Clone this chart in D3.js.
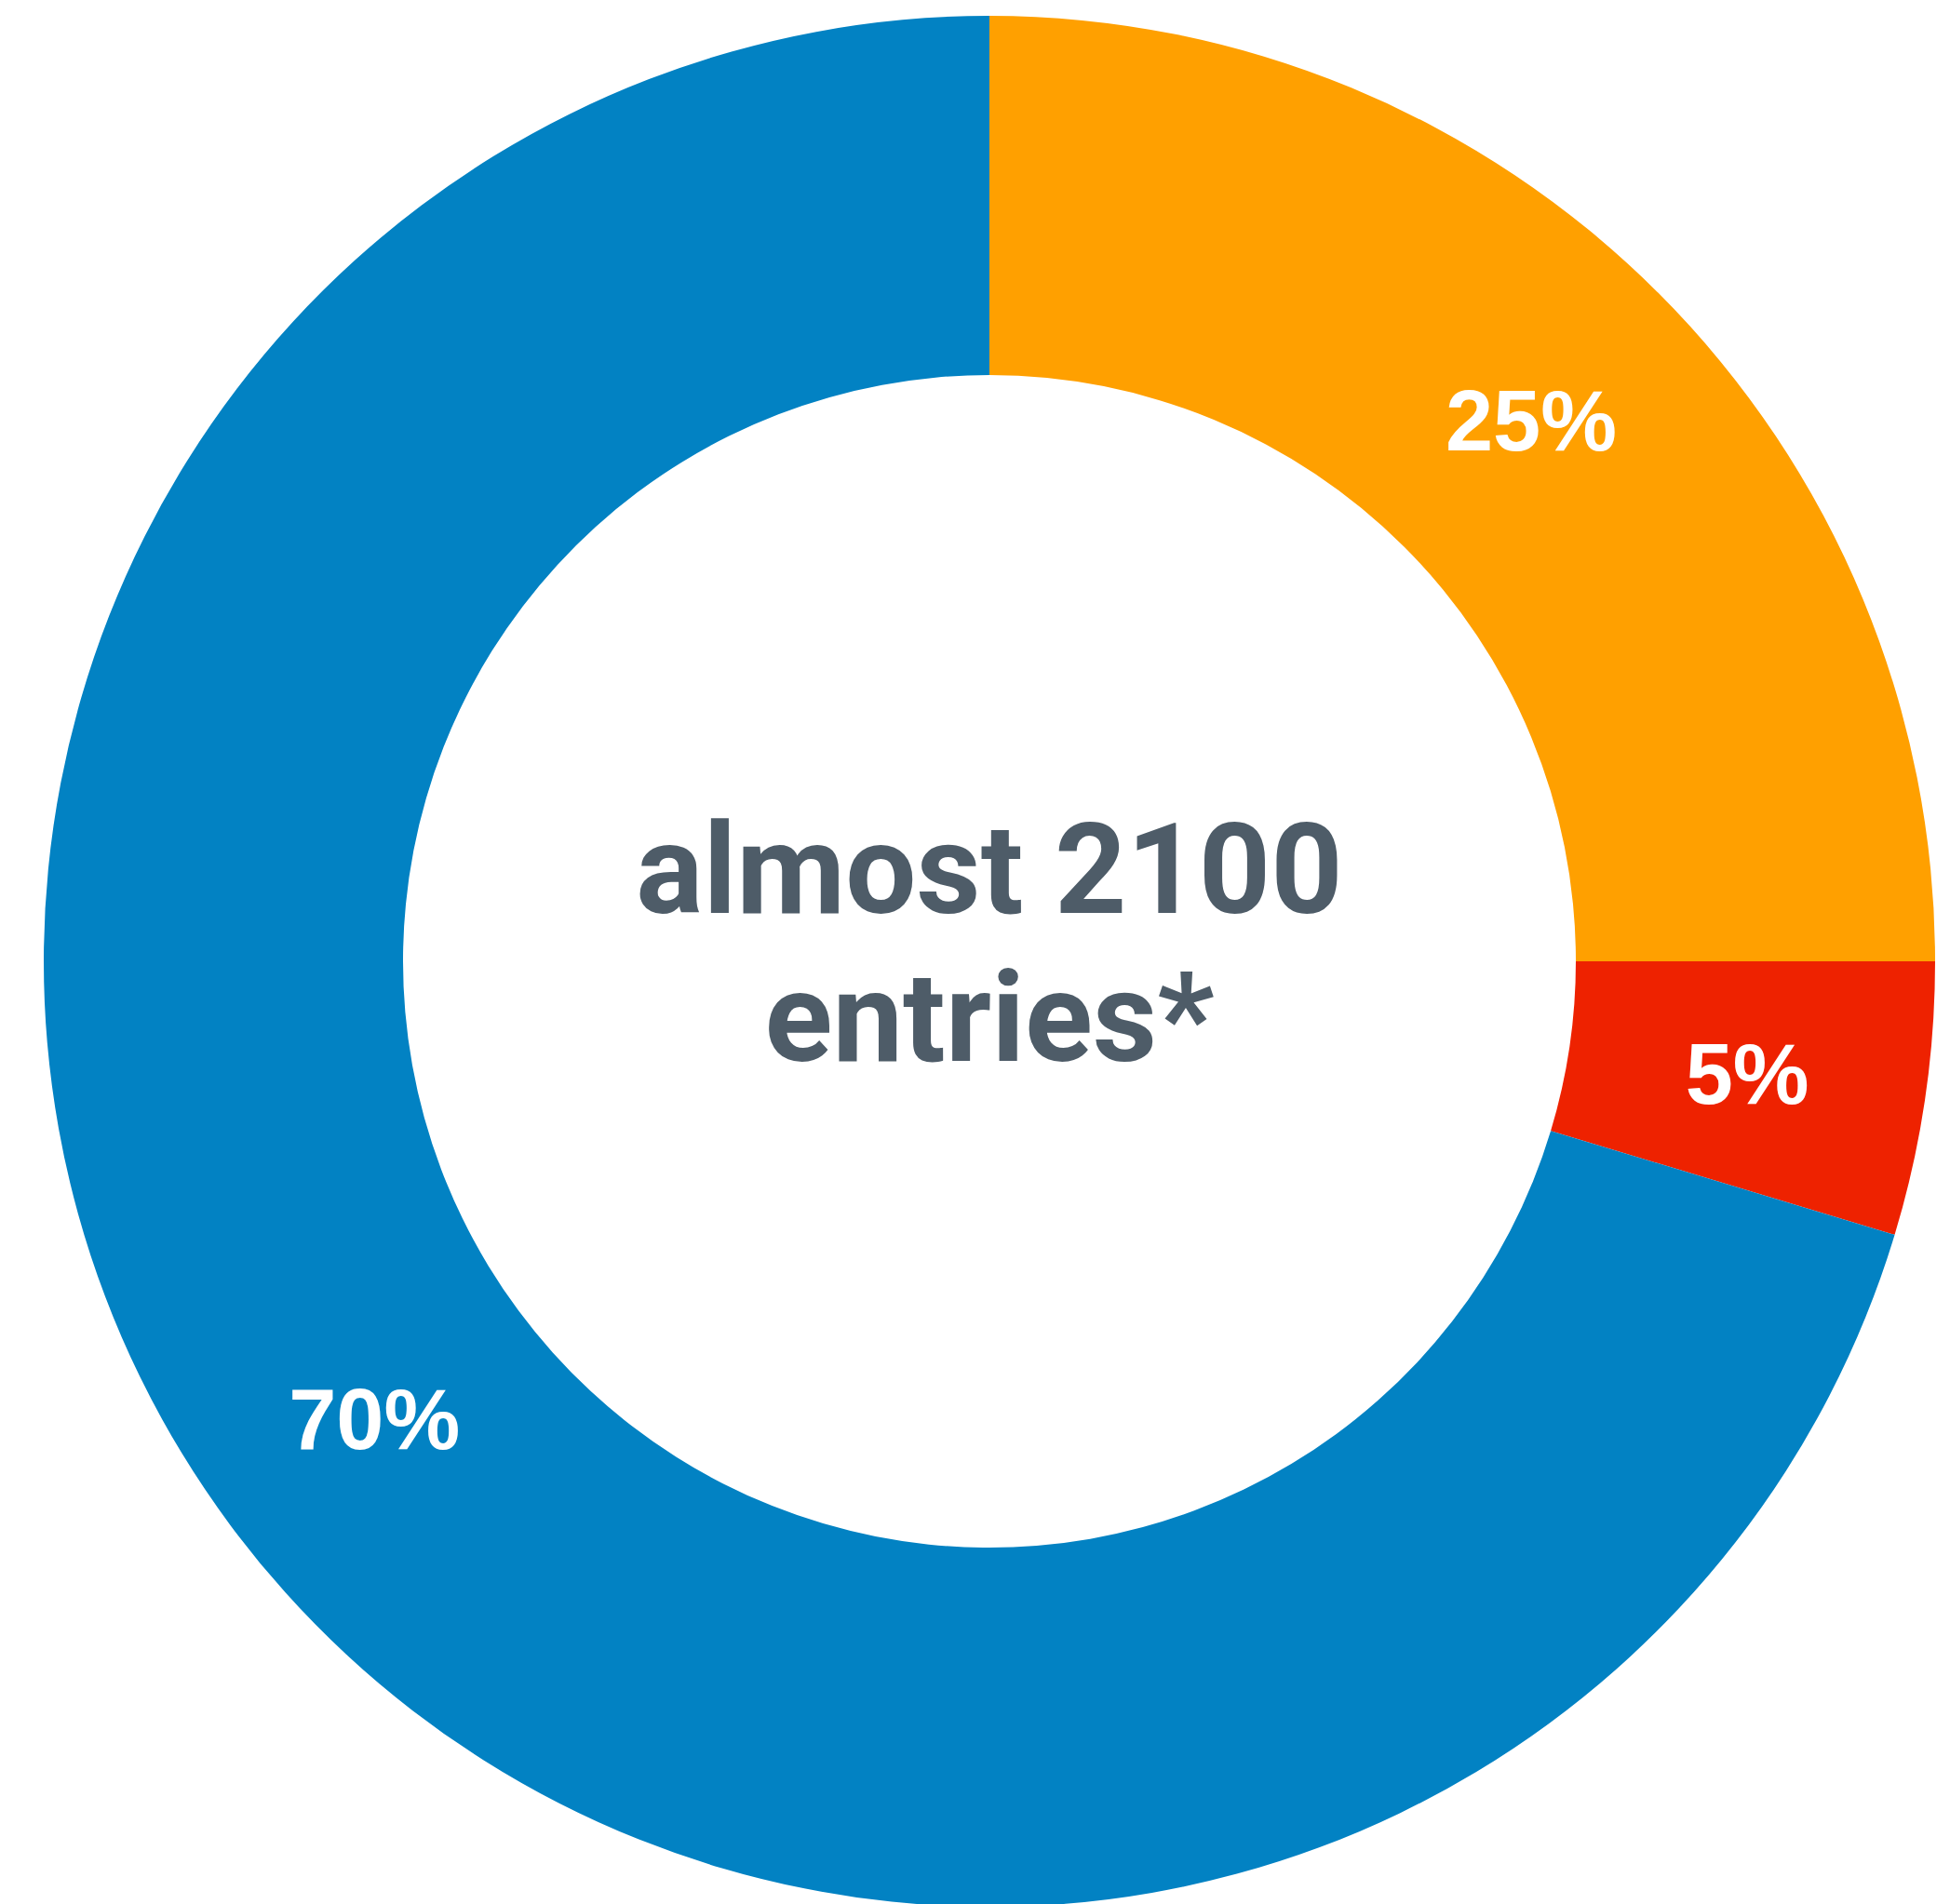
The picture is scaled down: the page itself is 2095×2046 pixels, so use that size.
<!DOCTYPE html>
<html>
<head>
<meta charset="utf-8">
<script src="https://cdn.jsdelivr.net/npm/d3@7"></script>
<style>
  html, body { margin: 0; padding: 0; background: #ffffff; }
  svg { display: block; }
</style>
</head>
<body>
<script>
// Data
const categories = ["Group A", "Group B", "Group C"];
const values = [25.0, 4.67, 70.33];
const valueLabels = ["25%", "5%", "70%"];
const colors = ["#ffa000", "#ee2200", "#0282c3"];
const centerLines = ["almost 2100", "entries*"];

const W = 2095, H = 2046;
const cx = 1063, cy = 1033;
const outerR = 1016, innerR = 630;
const CENTER_FONT = "Roboto, 'Liberation Sans', Arial, sans-serif";
const LABEL_FONT = "'Liberation Sans', Arial, Helvetica, sans-serif";

const svg = d3.select("body").append("svg")
  .attr("width", W).attr("height", H);

const g = svg.append("g").attr("transform", `translate(${cx},${cy})`);

const pie = d3.pie().sort(null).value(d => d.value);
const arc = d3.arc().innerRadius(innerR).outerRadius(outerR);

const data = categories.map((c, i) => ({ name: c, value: values[i], label: valueLabels[i], color: colors[i] }));
const arcs = pie(data);

g.selectAll("path.slice")
  .data(arcs)
  .join("path")
  .attr("class", "slice")
  .attr("d", arc)
  .attr("fill", d => d.data.color);

g.selectAll("text.pct")
  .data(arcs)
  .join("text")
  .attr("class", "pct")
  .attr("transform", d => `translate(${arc.centroid(d)})`)
  .attr("text-anchor", "middle")
  .attr("dy", "0.36em")
  .attr("fill", "#ffffff")
  .style("font-family", LABEL_FONT)
  .style("font-weight", "bold")
  .style("font-size", "92px")
  .text(d => d.data.label);

const center = g.append("text")
  .attr("text-anchor", "middle")
  .attr("fill", "#4e5c68")
  .style("font-family", CENTER_FONT)
  .style("font-weight", "bold")
  .style("font-size", "135px");

center.selectAll("tspan")
  .data(centerLines)
  .join("tspan")
  .attr("x", 0)
  .attr("y", (d, i) => i === 0 ? -52 : 107)
  .text(d => d);
</script>
</body>
</html>
